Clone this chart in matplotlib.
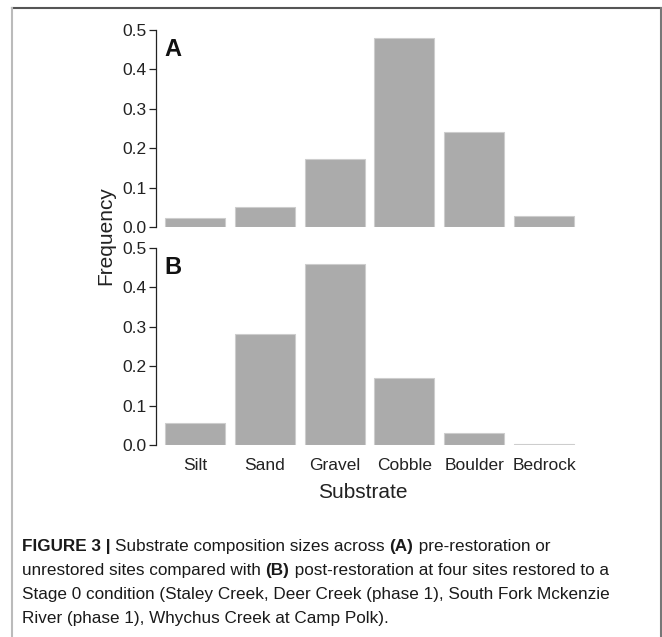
import matplotlib
matplotlib.use("Agg")
import matplotlib.pyplot as plt
from matplotlib.lines import Line2D

plt.rcParams['font.family'] = ['Liberation Sans', 'DejaVu Sans']

substrates = ["Silt", "Sand", "Gravel", "Cobble", "Boulder", "Bedrock"]
freq_pre = [0.023, 0.051, 0.173, 0.480, 0.241, 0.027]
freq_post = [0.056, 0.282, 0.460, 0.170, 0.030, 0.002]
y_ticks = [0.0, 0.1, 0.2, 0.3, 0.4, 0.5]

caption_lines = [
    [("FIGURE 3 | ", "bold"), ("Substrate composition sizes across ", "normal"),
     ("(A)", "bold"), (" pre-restoration or", "normal")],
    [("unrestored sites compared with ", "normal"), ("(B)", "bold"),
     (" post-restoration at four sites restored to a", "normal")],
    [("Stage 0 condition (Staley Creek, Deer Creek (phase 1), South Fork Mckenzie", "normal")],
    [("River (phase 1), Whychus Creek at Camp Polk).", "normal")],
]

W, H = 662, 637
fig = plt.figure(figsize=(W / 100, H / 100), dpi=100)


def px_axes(x0, y0, x1, y1):
    # pixel box (top-left origin) -> figure fraction axes
    return fig.add_axes([x0 / W, 1 - y1 / H, (x1 - x0) / W, (y1 - y0) / H])


def panel(ax, values, letter, show_x):
    ax.bar(range(len(values)), values, width=0.857, color="#ababab",
           edgecolor="#cdcdcd", linewidth=0.8)
    ax.set_xlim(-0.557, 5.557)
    ax.set_ylim(0, 0.5)
    for s in ["top", "right", "bottom"]:
        ax.spines[s].set_visible(False)
    ax.spines["left"].set_color("#222222")
    ax.spines["left"].set_linewidth(0.9)
    ax.set_yticks(y_ticks)
    ax.set_yticklabels([f"{v:.1f}" for v in y_ticks])
    ax.tick_params(axis="y", length=5, width=0.9, color="#222222",
                   labelsize=12.5, pad=1.5, labelcolor="#222222")
    if show_x:
        ax.set_xticks(range(len(substrates)))
        ax.set_xticklabels(substrates)
        ax.tick_params(axis="x", length=0, labelsize=12.5, pad=9,
                       labelcolor="#222222")
    else:
        ax.set_xticks([])
    ax.text(0.02, 0.96, letter, transform=ax.transAxes, fontsize=17,
            fontweight="bold", va="top", ha="left", color="#111111")


ax_a = px_axes(156, 30, 583, 227)
ax_b = px_axes(156, 248, 583, 445)
panel(ax_a, freq_pre, "A", False)
panel(ax_b, freq_post, "B", True)

fig.text(106 / W, 1 - 236 / H, "Frequency", rotation=90, fontsize=15,
         ha="center", va="center", color="#222222")
fig.text(363 / W, 1 - 492 / H, "Substrate", fontsize=15,
         ha="center", va="center", color="#222222")

# frame around the figure panel
fig.add_artist(Line2D([12 / W, 661 / W], [1 - 8 / H, 1 - 8 / H],
                      transform=fig.transFigure, color="#555555", lw=1.5))
fig.add_artist(Line2D([12 / W, 12 / W], [1 - 8 / H, 0],
                      transform=fig.transFigure, color="#bbbbbb", lw=1.5))
fig.add_artist(Line2D([661 / W, 661 / W], [1 - 8 / H, 0],
                      transform=fig.transFigure, color="#777777", lw=1.5))

# caption, laid out piece by piece so bold and regular runs share a line
renderer = fig.canvas.get_renderer()
line_y = [546, 570, 594, 618]
for pieces, yy in zip(caption_lines, line_y):
    x = 22
    for txt, weight in pieces:
        t = fig.text(x / W, 1 - yy / H, txt, fontsize=12.3, fontweight=weight,
                     va="center", ha="left", color="#1a1a1a")
        x += t.get_window_extent(renderer).width

fig.savefig("out.png", dpi=100)
